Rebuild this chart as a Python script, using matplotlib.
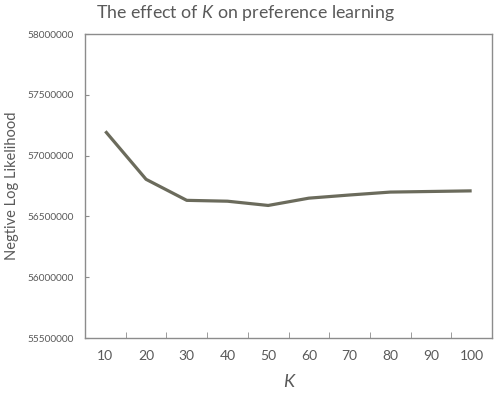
import matplotlib.pyplot as plt
import matplotlib.ticker as mtick
import numpy as np

# Datos
k_values = [10, 20, 30, 40, 50, 60, 70, 80, 90, 100]
nll = [57200000, 56805000, 56632000, 56625000, 56590000,
       56650000, 56676000, 56700000, 56705000, 56710000]
yticks = [55500000, 56000000, 56500000, 57000000, 57500000, 58000000]

plt.rcParams['font.family'] = ['Lato', 'DejaVu Sans']
plt.rcParams['mathtext.fontset'] = 'custom'
plt.rcParams['mathtext.it'] = 'Lato:italic'
plt.rcParams['mathtext.rm'] = 'Lato'
gris_texto = '#595959'
gris_borde = '#8c8c8c'

fig = plt.figure(figsize=(4.98, 4.00), dpi=100)
ax = fig.add_axes([0.1707, 0.155, 0.8173, 0.76])

pos = np.arange(1, len(k_values) + 1)
ax.plot(pos, nll, color='#6b6b5c', linewidth=2.3, solid_capstyle='butt')

ax.set_xlim(0.5, len(k_values) + 0.5)
ax.set_ylim(yticks[0], yticks[-1])
ax.set_xticks(pos)
ax.set_xticklabels([str(k) for k in k_values])
ax.set_xticks(np.arange(1.5, len(k_values)), minor=True)
ax.set_yticks(yticks)
ax.yaxis.set_major_formatter(mtick.FormatStrFormatter('%d'))

ax.tick_params(axis='x', which='major', length=0, pad=9, labelsize=10,
               labelcolor=gris_texto)
ax.tick_params(axis='x', which='minor', direction='in', length=4,
               color=gris_borde)
ax.tick_params(axis='y', direction='in', length=3, color=gris_borde,
               labelsize=7.3, labelcolor=gris_texto, pad=8)

for s in ax.spines.values():
    s.set_color(gris_borde)
    s.set_linewidth(1.0)

ax.set_xlabel('K', fontsize=13, style='italic', color=gris_texto, labelpad=8)
fig.text(0.025, 0.535, 'Negtive Log Likelihood', rotation=90, fontsize=10.5,
         color=gris_texto, ha='center', va='center')
fig.text(0.492, 0.968, 'The effect of $K$ on preference learning',
         fontsize=12.8, color=gris_texto, ha='center', va='center')

fig.savefig('out.png', dpi=100)
